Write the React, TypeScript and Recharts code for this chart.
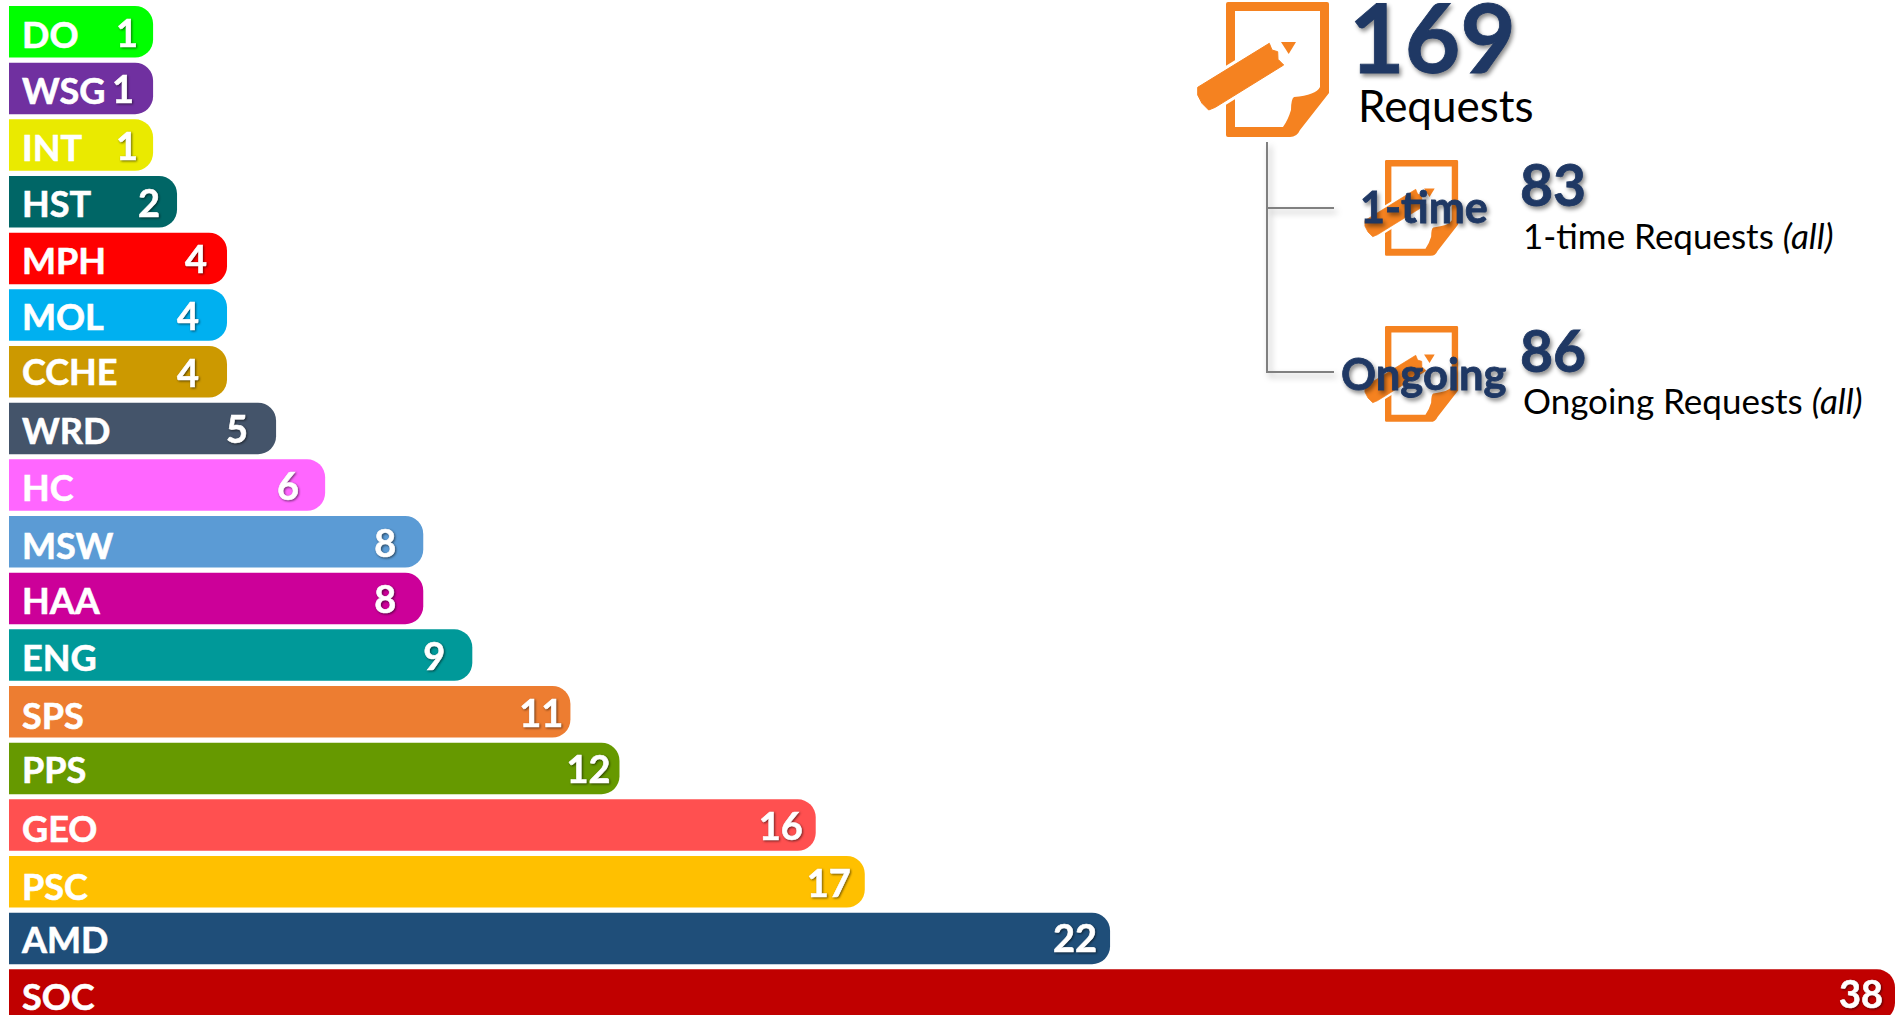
import React from "react";
import { BarChart, Bar, XAxis, YAxis, Cell, LabelList } from "recharts";

const categories = ["DO","WSG","INT","HST","MPH","MOL","CCHE","WRD","HC","MSW","HAA","ENG","SPS","PPS","GEO","PSC","AMD","SOC"];
const counts = [1,1,1,2,4,4,4,5,6,8,8,9,11,12,16,17,22,38];
const colors = ["#00FF00","#7030A0","#EAEA00","#006666","#FF0000","#00B0F0","#CC9900","#44546A","#FF66FF","#5B9BD5","#CC0099","#009999","#ED7D31","#669900","#FF5050","#FFC000","#1F4E79","#C00000"];
const rows = categories.map((name, i) => ({ name, count: counts[i] }));

// Hand-placed label nudges in the source (px), by row.
const countNudgeX = [0,-4,0,-2,-5,-13,-13,-13,-11,-12,-12,-12,8,6,2,1,2,3];
const countNudgeY = [-1,-1,-1,-1,-1,-1,-1,-1,-1,-1,-1,-1,-1,-1,-1,-1,-2,-3];
const nameNudgeY = [-1,-1,-1,-2,-1,-2,-4,-1,-1,0,-1,-1,0,-2,0,1,-2,-2];

const NAVY = "#1F3864";
const ORANGE = "#F58220";
const PENCIL = "M-28.3,85.3 L43.3,41.3 L46,48 L51.7,49.7 L52,57.3 L57.7,63 L-10.7,105.3 L-17.3,108 L-24,101.3 L-28.3,93 Z";

// The source's bars are not proportional below 4: short bars keep a minimum length.
const scaleKnots: [number, number][] = [[0, 0], [1, 0.0764], [2, 0.0891], [4, 0.1156], [38, 1]];

function makeScale(): any {
  let dom: number[] = [0, 38];
  let rng: number[] = [0, 1];
  const s: any = (v: number) => {
    let f = 1;
    for (let i = 1; i < scaleKnots.length; i++) {
      const [a, fa] = scaleKnots[i - 1];
      const [b, fb] = scaleKnots[i];
      if (v <= b) { f = fa + ((v - a) / (b - a)) * (fb - fa); break; }
    }
    return rng[0] + f * (rng[1] - rng[0]);
  };
  s.domain = (d?: number[]) => { if (d) { dom = d; return s; } return dom; };
  s.range = (r?: number[]) => { if (r) { rng = r; return s; } return rng; };
  s.copy = () => { const c = makeScale(); c.domain(dom); c.range(rng); return c; };
  s.ticks = () => scaleKnots.map((k) => k[0]);
  return s;
}
const pieceScale = makeScale();

const shadow = "drop-shadow(1.5px 1.5px 1px rgba(0,0,0,0.55))";
const font = "Lato, Carlito, sans-serif";

const NameLabel = (p: any) => {
  const i = categories.indexOf(p.value);
  return (
    <text x={p.x + 13} y={p.y + p.height / 2 + 3 + nameNudgeY[i]} dominantBaseline="central" fill="#fff"
      stroke="#fff" strokeWidth={0.6} fontFamily={font} fontWeight={700} fontSize={36}>{p.value}</text>
  );
};
const CountLabel = (p: any) => {
  const i = p.index;
  return (
    <text x={p.x + p.width - 15 + countNudgeX[i]} y={p.y + p.height / 2 + 1 + countNudgeY[i]} dominantBaseline="central"
      textAnchor="end" fill="#fff" stroke="#fff" strokeWidth={0.6} fontFamily={font} fontWeight={700} fontSize={38}
      style={{ filter: shadow }}>{p.value}</text>
  );
};

const NoteIcon = ({ x, y, s }: { x: number; y: number; s: number }) => (
  <g transform={`translate(${x} ${y}) scale(${s})`}>
    <path d="M2,0 H101 Q103,0 103,2 V91 L74,128 Q71,135 64,135 H2 Q0,135 0,133 V2 Q0,0 2,0 Z" fill={ORANGE} />
    <path d="M9,9 H94 V85 Q90,93 68,95 Q65,97 65,108 Q62,118 57,125 H9 Z" fill="#fff" />
    <path d={PENCIL} fill="#fff" stroke="#fff" strokeWidth={7} strokeLinejoin="round" />
    <path d={PENCIL} fill={ORANGE} stroke={ORANGE} strokeWidth={1} strokeLinejoin="round" />
    <path d="M55,40 H70 L62.7,52 Z" fill={ORANGE} />
  </g>
);

const Overlay = () => (
  <svg width={1898} height={1015} style={{ position: "absolute", left: 0, top: 0 }}>
    <NoteIcon x={1226} y={2} s={1} />
    <NoteIcon x={1385} y={160} s={0.71} />
    <NoteIcon x={1385} y={326} s={0.71} />
    <g style={{ filter: "drop-shadow(3px 4px 3px rgba(0,0,0,0.3))" }}>
      <path d="M1267,142 V372 H1334 M1267,208 H1334" fill="none" stroke="#808080" strokeWidth={2} />
    </g>
    <g fontFamily={font}>
      <g fill={NAVY} stroke={NAVY} strokeWidth={0.8} fontWeight={700} style={{ filter: "drop-shadow(2px 3px 2px rgba(0,0,0,0.45))" }}>
        <text x={1349} y={73} fontSize={96}>169</text>
        <text x={1520} y={206} fontSize={57}>83</text>
        <text x={1520} y={372} fontSize={57}>86</text>
        <text x={1360} y={223} fontSize={43}>1-time</text>
        <text x={1341} y={390} fontSize={43.5}>Ongoing</text>
      </g>
      <g fill="#000">
        <text x={1358} y={122} fontSize={44}>Requests</text>
        <text x={1523} y={249} fontSize={35}>1-time Requests <tspan fontStyle="italic">(all)</tspan></text>
        <text x={1523} y={414} fontSize={35}>Ongoing Requests <tspan fontStyle="italic">(all)</tspan></text>
      </g>
    </g>
  </svg>
);

export default function App() {
  return (
    <div style={{ position: "absolute", left: 0, top: 0, width: 1898, height: 1015, overflow: "hidden", background: "#fff" }}>
      <BarChart width={1898} height={1023} data={rows} layout="vertical"
        margin={{ top: 3, right: 3, bottom: 0, left: 9 }} barSize={51.5}>
        <XAxis type="number" hide domain={[0, 38]} scale={pieceScale} />
        <YAxis type="category" dataKey="name" hide />
        <Bar dataKey="count" isAnimationActive={false} radius={[0, 18, 18, 0]}>
          {rows.map((r, i) => <Cell key={r.name} fill={colors[i]} />)}
          <LabelList dataKey="name" content={NameLabel} />
          <LabelList dataKey="count" content={CountLabel} />
        </Bar>
      </BarChart>
      <Overlay />
    </div>
  );
}
